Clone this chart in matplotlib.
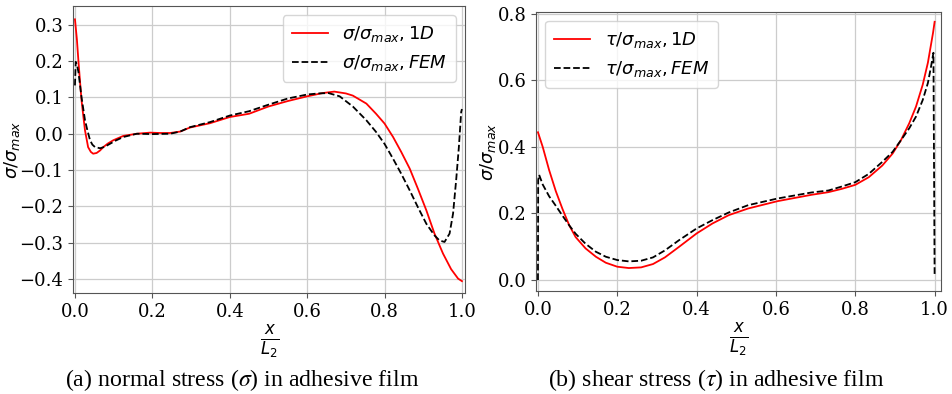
import matplotlib
matplotlib.use("Agg")
import matplotlib.pyplot as plt

plt.rcParams['font.family'] = ['DejaVu Serif']
plt.rcParams['mathtext.fontset'] = 'dejavusans'

# (a) normal stress
xa_1d = [0, 0.005, 0.009, 0.013, 0.017, 0.022, 0.026, 0.034, 0.041, 0.047,
         0.056, 0.065, 0.073, 0.085, 0.099, 0.125, 0.16, 0.194, 0.22, 0.246,
         0.272, 0.297, 0.349, 0.4, 0.45, 0.5, 0.55, 0.6, 0.64, 0.67,
         0.7, 0.718, 0.753, 0.778, 0.8, 0.822, 0.843, 0.865, 0.886, 0.908,
         0.929, 0.951, 0.972, 0.99, 1.0]
sa_1d = [0.315, 0.26, 0.2, 0.145, 0.092, 0.045, 0.009, -0.037, -0.05, -0.055,
         -0.053, -0.046, -0.037, -0.027, -0.018, -0.006, 0.0, 0.003, 0.002, 0.002,
         0.006, 0.017, 0.029, 0.046, 0.055, 0.075, 0.09, 0.103, 0.112, 0.116,
         0.111, 0.105, 0.083, 0.055, 0.028, -0.009, -0.05, -0.096, -0.151, -0.211,
         -0.275, -0.33, -0.373, -0.399, -0.406]
xa_fem = [0, 0.002, 0.005, 0.009, 0.013, 0.017, 0.022, 0.026, 0.032, 0.039,
          0.045, 0.052, 0.065, 0.077, 0.09, 0.105, 0.125, 0.16, 0.2, 0.246,
          0.272, 0.297, 0.349, 0.4, 0.45, 0.5, 0.55, 0.6, 0.63, 0.655,
          0.684, 0.718, 0.753, 0.778, 0.8, 0.822, 0.843, 0.865, 0.886, 0.908,
          0.929, 0.942, 0.955, 0.968, 0.977, 0.985, 0.992, 0.998, 1.0]
sa_fem = [0.133, 0.198, 0.19, 0.17, 0.135, 0.1, 0.065, 0.037, 0.01, -0.018,
          -0.03, -0.037, -0.04, -0.036, -0.028, -0.019, -0.009, 0.0, -0.001, 0.0,
          0.006, 0.018, 0.032, 0.05, 0.062, 0.08, 0.097, 0.108, 0.111, 0.112,
          0.103, 0.075, 0.037, 0.005, -0.028, -0.069, -0.11, -0.156, -0.202, -0.248,
          -0.28, -0.294, -0.298, -0.275, -0.22, -0.128, -0.037, 0.06, 0.068]

# (b) shear stress
xb_1d = [0, 0.012, 0.028, 0.045, 0.062, 0.079, 0.095, 0.12, 0.146, 0.171,
         0.2, 0.229, 0.26, 0.29, 0.32, 0.356, 0.4, 0.44, 0.481, 0.53,
         0.604, 0.689, 0.732, 0.766, 0.8, 0.834, 0.868, 0.894, 0.915, 0.936,
         0.953, 0.97, 0.983, 0.996, 1.0]
tb_1d = [0.444, 0.4, 0.331, 0.267, 0.213, 0.164, 0.129, 0.095, 0.07, 0.052,
         0.04, 0.036, 0.038, 0.048, 0.068, 0.1, 0.14, 0.17, 0.195, 0.215,
         0.237, 0.256, 0.264, 0.274, 0.286, 0.309, 0.344, 0.38, 0.42, 0.471,
         0.521, 0.587, 0.653, 0.743, 0.776]
xb_fem = [0, 0.0005, 0.003, 0.012, 0.028, 0.045, 0.062, 0.079, 0.095, 0.12,
          0.146, 0.171, 0.2, 0.229, 0.26, 0.29, 0.32, 0.356, 0.4, 0.44,
          0.481, 0.53, 0.604, 0.689, 0.732, 0.766, 0.8, 0.834, 0.868, 0.894,
          0.915, 0.936, 0.953, 0.97, 0.983, 0.991, 0.997, 1.0]
tb_fem = [0.0, 0.3, 0.316, 0.287, 0.252, 0.223, 0.193, 0.164, 0.139, 0.109,
          0.085, 0.07, 0.06, 0.056, 0.058, 0.068, 0.089, 0.12, 0.155, 0.18,
          0.203, 0.225, 0.245, 0.263, 0.269, 0.281, 0.294, 0.319, 0.355, 0.385,
          0.42, 0.456, 0.491, 0.541, 0.592, 0.642, 0.683, 0.01]

fig = plt.figure(figsize=(9.52, 3.94), dpi=100)
ax1 = fig.add_axes([0.0767, 0.256, 0.4118, 0.729])
ax2 = fig.add_axes([0.563, 0.2614, 0.425, 0.7086])

def style(ax):
    ax.grid(True, color='#cccccc', linewidth=0.9)
    ax.set_axisbelow(True)
    for s in ax.spines.values():
        s.set_color('#555555')
    ax.tick_params(labelsize=13, color='#555555', length=3.5)
    ax.set_xticks([0.0, 0.2, 0.4, 0.6, 0.8, 1.0])

ax1.plot(xa_1d, sa_1d, color='red', lw=1.3, label=r'$\sigma/\sigma_{max}, 1D$')
ax1.plot(xa_fem, sa_fem, 'k--', lw=1.3, label=r'$\sigma/\sigma_{max}, FEM$')
style(ax1)
ax1.set_xlim(-0.005, 1.008)
ax1.set_ylim(-0.439, 0.352)
ax1.set_yticks([-0.4, -0.3, -0.2, -0.1, 0.0, 0.1, 0.2, 0.3])
ax1.set_xlabel(r'$\frac{x}{L_2}$', fontsize=17, labelpad=2)
ax1.set_ylabel(r'$\sigma/\sigma_{max}$', fontsize=13)
ax1.yaxis.set_label_coords(-0.13, 0.5)
ax1.legend(loc='upper right', fontsize=13, handlelength=2.0, borderpad=0.5)

ax2.plot(xb_1d, tb_1d, color='red', lw=1.3, label=r'$\tau/\sigma_{max}, 1D$')
ax2.plot(xb_fem, tb_fem, 'k--', lw=1.3, label=r'$\tau/\sigma_{max}, FEM$')
style(ax2)
ax2.set_xlim(-0.005, 1.015)
ax2.set_ylim(-0.033, 0.806)
ax2.set_yticks([0.0, 0.2, 0.4, 0.6, 0.8])
ax2.set_xlabel(r'$\frac{x}{L_2}$', fontsize=17, labelpad=2)
ax2.set_ylabel(r'$\sigma/\sigma_{max}$', fontsize=13)
ax2.yaxis.set_label_coords(-0.094, 0.5)
ax2.legend(loc='upper left', fontsize=13, handlelength=2.0, borderpad=0.5)

fig.text(0.254, 0.036, r'(a) normal stress ($\sigma$) in adhesive film', ha='center', va='center',
         family='Liberation Serif', fontsize=17.2, math_fontfamily='stix')
fig.text(0.752, 0.036, r'(b) shear stress ($\tau$) in adhesive film', ha='center', va='center',
         family='Liberation Serif', fontsize=17.2, math_fontfamily='stix')

fig.savefig('out.png', dpi=100)
